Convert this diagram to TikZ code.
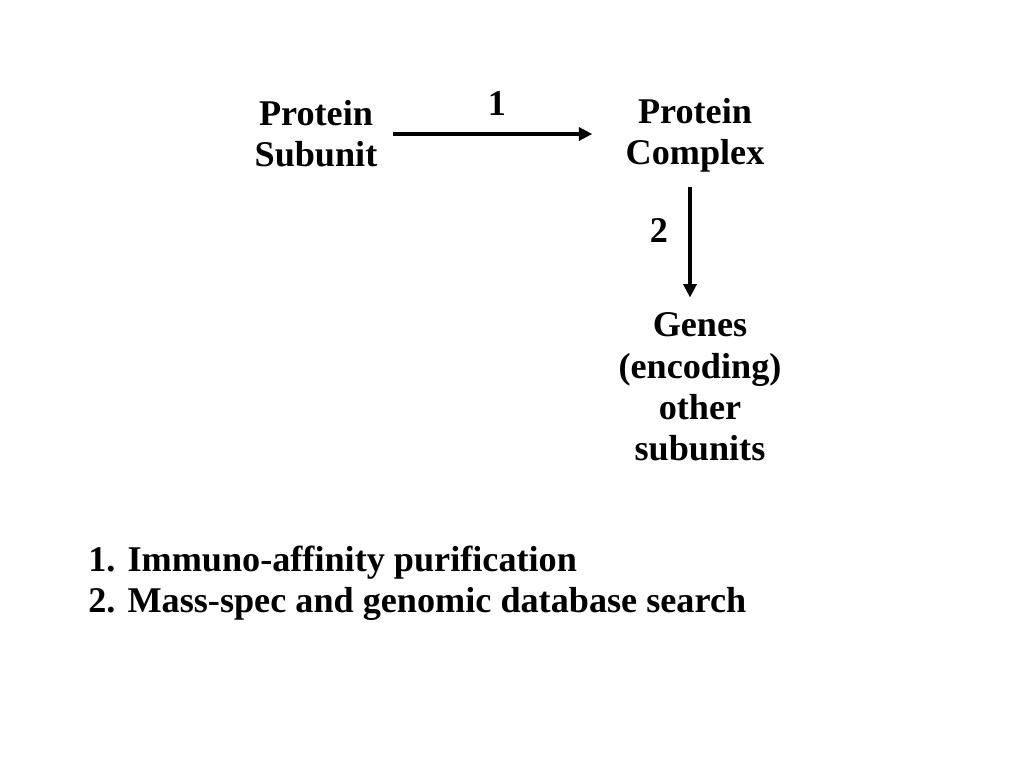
\documentclass[tikz,border=0pt]{standalone}
\usepackage{fontspec}
\setmainfont{Liberation Serif}
\usetikzlibrary{arrows.meta, positioning}

\begin{document}
\begin{tikzpicture}[x=0.02cm, y=-0.02cm,
    lbl/.style={font=\bfseries\fontsize{20.6}{23.5}\selectfont, align=center, inner sep=0pt},
    flow/.style={line width=2.2pt, -{Triangle[length=0.27cm, width=0.26cm]}}]
  \useasboundingbox (0,0) rectangle (1024,768);
  % pathway
  \node[lbl] (subunit) at (316,134) {Protein\\Subunit};
  \node[lbl] (complex) at (695,135) {Protein\\Complex};
  \node[lbl] (genes) at (700,387) {Genes\\(encoding)\\other\\subunits};
  \node[lbl] (step1) at (497,104) {1};
  \node[lbl] (step2) at (659,231) {2};
  \draw[flow, shorten <=0.3cm, shorten >=0.66cm] (subunit) -- (subunit -| complex.west);
  \draw[flow, shorten <=0.3cm, shorten >=0.3cm] ([xshift=-0.1cm]complex.south) -- ([xshift=-0.1cm]complex.south |- genes.north);
  % legend
  \node[lbl, anchor=west, align=left] (legend) at (88,583) {1. Immuno-affinity purification\\2. Mass-spec and genomic database search};
\end{tikzpicture}
\end{document}
